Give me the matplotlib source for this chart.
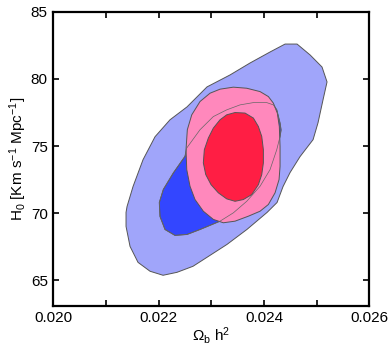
import matplotlib
matplotlib.use("Agg")
import matplotlib.pyplot as plt

plt.rcParams["font.family"] = ["Liberation Sans", "DejaVu Sans"]
plt.rcParams["mathtext.default"] = "regular"

# ── Contour outlines (Omega_b h^2, H0) ─────────────────────────────────
blue95_x = [0.021381, 0.021381, 0.021457, 0.021609, 0.021837, 0.022084, 0.022349,
            0.022653, 0.022919, 0.023299, 0.023679, 0.024059, 0.024249, 0.024363,
            0.024496, 0.024686, 0.024933, 0.025027, 0.025122, 0.025198, 0.025103,
            0.024876, 0.024629, 0.024401, 0.024116, 0.023736, 0.023356, 0.022919,
            0.022539, 0.022216, 0.021932, 0.021704, 0.021514, 0.021400]
blue95_y = [70.06, 69.02, 67.53, 66.34, 65.68, 65.38, 65.60,
            66.05, 66.72, 67.68, 68.80, 70.06, 70.80, 71.99,
            73.03, 74.22, 75.48, 76.74, 78.45, 79.78, 80.89,
            81.79, 82.60, 82.60, 82.01, 81.19, 80.30, 79.41,
            77.92, 76.96, 75.70, 73.99, 71.99, 70.50]

blue68_x = [0.022534, 0.022786, 0.023039, 0.023293, 0.023546, 0.023799, 0.024053,
            0.024179, 0.024243, 0.024306, 0.024325, 0.024306, 0.024243, 0.024116,
            0.023926, 0.023673, 0.023419, 0.023166, 0.022786, 0.022539, 0.022311,
            0.022121, 0.022026, 0.022013, 0.022089, 0.022279, 0.022501]
blue68_y = [74.86, 76.22, 77.20, 77.70, 78.07, 78.24, 78.24,
            78.07, 77.70, 76.71, 76.20, 75.72, 74.73, 73.25,
            72.01, 70.89, 70.03, 69.41, 68.79, 68.42, 68.35,
            68.79, 69.76, 70.80, 71.77, 73.00, 74.24]

pink95_x = [0.022786, 0.022976, 0.023166, 0.023419, 0.023673, 0.023926, 0.024084,
            0.024179, 0.024254, 0.024292, 0.024306, 0.024306, 0.024287, 0.024211,
            0.024084, 0.023926, 0.023704, 0.023451, 0.023229, 0.023039, 0.022849,
            0.022691, 0.022596, 0.022534, 0.022520, 0.022545, 0.022629]
pink95_y = [78.32, 78.94, 79.24, 79.39, 79.31, 79.06, 78.69,
            78.20, 77.46, 76.46, 74.98, 73.49, 72.51, 71.52,
            70.65, 70.15, 69.78, 69.41, 69.29, 69.54, 70.15,
            71.02, 72.01, 73.25, 74.73, 76.22, 77.33]

red68_x = [0.023451, 0.023641, 0.023799, 0.023894, 0.023958, 0.023989, 0.023989,
           0.023958, 0.023894, 0.023768, 0.023609, 0.023451, 0.023293, 0.023134,
           0.022995, 0.022895, 0.022849, 0.022868, 0.022944, 0.023039, 0.023166,
           0.023293]
red68_y = [77.50, 77.46, 77.09, 76.46, 75.72, 74.73, 73.75,
           72.88, 72.13, 71.39, 71.02, 70.89, 71.07, 71.52,
           72.13, 72.88, 73.75, 74.73, 75.60, 76.34, 76.96,
           77.33]

x_ticks = [0.020, 0.021, 0.022, 0.023, 0.024, 0.025, 0.026]
x_labels = ["0.020", "", "0.022", "", "0.024", "", "0.026"]
y_ticks = [65, 70, 75, 80, 85]

EDGE = "#555555"

fig = plt.figure(figsize=(3.92, 3.48), dpi=100)
ax = fig.add_axes([0.136, 0.121, 0.806, 0.845])

ax.fill(blue95_x, blue95_y, facecolor="#a0a5fa", edgecolor=EDGE, linewidth=0.7, zorder=1)
ax.fill(blue68_x, blue68_y, facecolor="#3346ff", edgecolor=EDGE, linewidth=0.7, zorder=2)
ax.fill(pink95_x, pink95_y, facecolor="#ff88bc", edgecolor=EDGE, linewidth=0.7, zorder=3)
ax.fill(blue68_x, blue68_y, facecolor="none", edgecolor="#666666", linewidth=0.5, zorder=4)
ax.fill(red68_x, red68_y, facecolor="#ff1e44", edgecolor=EDGE, linewidth=0.7, zorder=5)

ax.set_xlim(0.020, 0.026)
ax.set_ylim(63.1, 85)
ax.set_xticks(x_ticks)
ax.set_xticklabels(x_labels)
ax.set_yticks(y_ticks)

ax.tick_params(direction="in", length=4, width=1.2, top=True, right=True,
               labelsize=11, pad=4)
for sp in ax.spines.values():
    sp.set_linewidth(1.6)

ax.set_xlabel(r"$\Omega_b$ h$^2$", fontsize=11, labelpad=0)
ax.set_ylabel(r"H$_0$ [Km s$^{-1}$ Mpc$^{-1}$]", fontsize=11, labelpad=1)

fig.savefig("out.png", dpi=100)
